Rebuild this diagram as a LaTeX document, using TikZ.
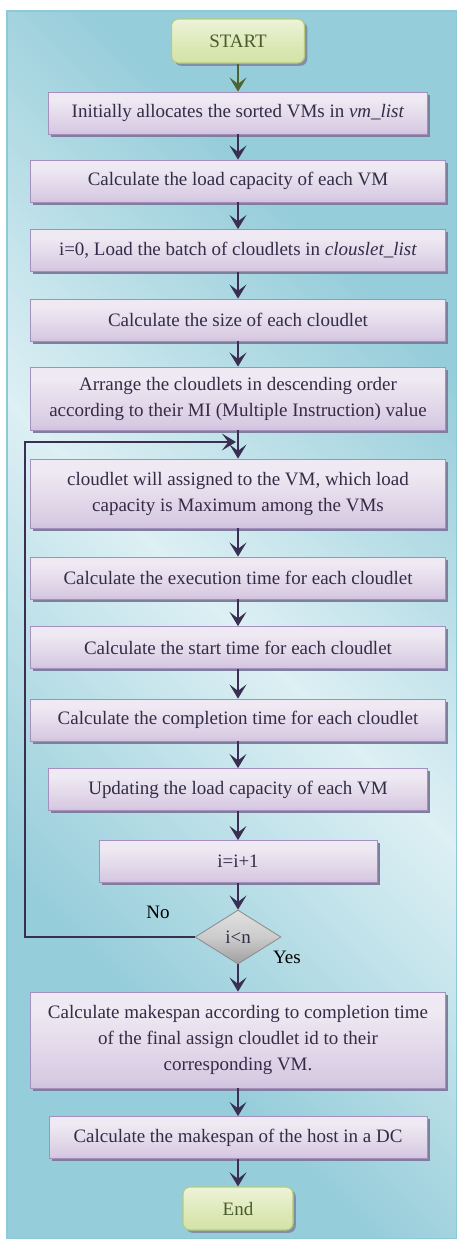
\documentclass[tikz,border=0pt]{standalone}
\usepackage{fontspec}
\setmainfont{Liberation Serif}
\usetikzlibrary{shapes.geometric,shadows,arrows.meta}

\definecolor{pdark}{HTML}{96CDDA}
\definecolor{plight}{HTML}{DDF0F4}
\definecolor{pline}{HTML}{8EC9DA}
\definecolor{bdark}{HTML}{AE94C5}
\definecolor{bmid}{HTML}{D8CBE3}
\definecolor{blight}{HTML}{EEE9F2}
\definecolor{btop}{HTML}{D5C6E1}
\definecolor{boxline}{HTML}{A58FBD}
\definecolor{boxtext}{HTML}{342C47}
\definecolor{gdark}{HTML}{CADD94}
\definecolor{glight}{HTML}{F0F5DE}
\definecolor{gline}{HTML}{B6CC7C}
\definecolor{gtext}{HTML}{4B5A2B}
\definecolor{flowc}{HTML}{3A2E52}
\definecolor{startc}{HTML}{4F6331}
\definecolor{shadowc}{HTML}{7E7F9C}

\pgfdeclareverticalshading{boxshade}{100bp}{color(0bp)=(bdark); color(30bp)=(bmid); color(65bp)=(blight); color(88bp)=(blight); color(100bp)=(btop)}
\pgfdeclareverticalshading{termshade}{100bp}{color(0bp)=(gdark); color(40bp)=(gdark!60!glight); color(80bp)=(glight); color(100bp)=(glight)}
\pgfdeclareverticalshading{decshade}{100bp}{color(0bp)=(black!55); color(50bp)=(black!20); color(100bp)=(black!4)}
\pgfdeclarehorizontalshading{panelshade}{100bp}{color(0bp)=(pdark); color(30bp)=(pdark); color(50bp)=(plight); color(70bp)=(pdark); color(100bp)=(pdark)}

\begin{document}
\begin{tikzpicture}[x=0.025cm,y=-0.025cm]

  \tikzstyle{process}=[draw=boxline,line width=0.6pt,shade,shading=boxshade,text=boxtext,align=center,inner sep=0pt,minimum width=415*\px,minimum height=42*\px,font=\fontsize{13.5}{18.5}\selectfont,drop shadow={shadow xshift=2pt,shadow yshift=-2pt,fill=shadowc,opacity=1}]
  \tikzstyle{terminal}=[draw=gline,line width=0.8pt,rounded corners=5pt,shade,shading=termshade,text=gtext,inner sep=0pt,font=\fontsize{13.5}{18.5}\selectfont,drop shadow={shadow xshift=2pt,shadow yshift=-2pt,fill=shadowc,opacity=0.8}]
  \tikzstyle{decision}=[diamond,draw=black!45,line width=0.6pt,shade,shading=decshade,text=boxtext,inner sep=0pt,aspect=1.6,minimum width=86*\px,minimum height=54*\px,font=\fontsize{13.5}{18.5}\selectfont]
  \tikzstyle{flow}=[draw=flowc,line width=1.4pt,-{Stealth[length=10pt,width=12pt,inset=4.5pt]}]
  \tikzstyle{panel}=[draw=pline,line width=0.8pt,shade,shading=panelshade,shading angle=45]
  \tikzstyle{answer}=[font=\fontsize{13.5}{18.5}\selectfont,inner sep=0pt]

  % ====================
  % Parameters
  % ====================
  \def\px{0.025cm}  % One pixel of the layout
  \def\midx{238}    % Axis of the chart
  % ====================

  \useasboundingbox[fill=white] (0,0) rectangle (457,1239);
  \path[panel] (7,11) rectangle (457,1239);

  % ====================
  % Steps
  % ====================
  \node (start) [terminal,minimum width=133*\px,minimum height=44*\px] at (\midx,41) {START};
  \node (b1) [process,minimum width=379*\px] at (\midx,113) {Initially allocates the sorted VMs in \textit{vm\_list}};
  \node (b2) [process] at (\midx,181) {Calculate the load capacity of each VM};
  \node (b3) [process] at (\midx,250.5) {i=0, Load the batch of cloudlets in \textit{clouslet\_list}};
  \node (b4) [process] at (\midx,320) {Calculate the size of each cloudlet};
  \node (b5) [process,minimum height=63*\px] at (\midx,398.5) {Arrange the cloudlets in descending order\\according to their MI (Multiple Instruction) value};
  \node (b6) [process,minimum height=69*\px] at (\midx,493.5) {cloudlet will assigned to the VM, which load\\capacity is Maximum among the VMs};
  \node (b7) [process] at (\midx,578) {Calculate the execution time for each cloudlet};
  \node (b8) [process] at (\midx,647.5) {Calculate the start time for each cloudlet};
  \node (b9) [process] at (\midx,720) {Calculate the completion time for each cloudlet};
  \node (b10) [process,minimum width=379*\px] at (\midx,789.5) {Updating the load capacity of each VM};
  \node (b11) [process,minimum width=278*\px] at (\midx,861.5) {i=i+1};
  \node (dec) [decision] at (\midx,937) {i<n};
  \node (b12) [process,minimum height=96*\px] at (\midx,1040) {Calculate makespan according to completion time\\of the final assign cloudlet id to their\\corresponding VM.};
  \node (b13) [process,minimum width=378*\px] at (\midx,1137.5) {Calculate the makespan of the host in a DC};
  \node (end) [terminal,minimum width=110*\px,minimum height=43*\px] at (\midx,1208.5) {End};

  % Labels of the decision
  \node (nolabel) [answer] at (158,912) {No};
  \node (yeslabel) [answer] at (287,957) {Yes};

  % ====================
  % Arrows
  % ====================
  \draw[flow,draw=startc] (start.south) -- (b1.north);
  \draw[flow] (b1.south) -- (b2.north);
  \draw[flow] (b2.south) -- (b3.north);
  \draw[flow] (b3.south) -- (b4.north);
  \draw[flow] (b4.south) -- (b5.north);
  \draw[flow] (b5.south) -- (b6.north);
  \draw[flow] (b6.south) -- (b7.north);
  \draw[flow] (b7.south) -- (b8.north);
  \draw[flow] (b8.south) -- (b9.north);
  \draw[flow] (b9.south) -- (b10.north);
  \draw[flow] (b10.south) -- (b11.north);
  \draw[flow] (b11.south) -- (dec.north);
  \draw[flow] (dec.south) -- (b12.north);
  \draw[flow] (b12.south) -- (b13.north);
  \draw[flow] (b13.south) -- (end.north);

  % Loop back
  \coordinate (loopleft) at (25,442);
  \coordinate (loopin) at (236,442);
  \draw[flow] (dec.west) -| (loopleft) -- (loopin);
\end{tikzpicture}
\end{document}
